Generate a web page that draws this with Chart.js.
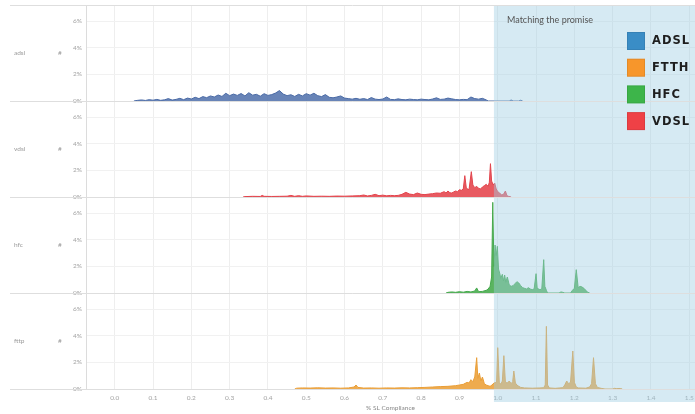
<!DOCTYPE html>
<html>
<head>
<meta charset="utf-8">
<script src="https://cdn.jsdelivr.net/npm/chart.js@4/dist/chart.umd.min.js"></script>
<style>
  html, body { margin: 0; padding: 0; background: #fff; }
  #wrap { width: 695px; height: 414px; position: relative; }
</style>
</head>
<body>
<div id="wrap"><canvas id="c" width="695" height="414"></canvas></div>
<script>
// Share of services (%) by SL compliance ratio, one row per access technology.
const rowNames = ['adsl', 'vdsl', 'hfc', 'fttp'];
const promiseFrom = 0.99;           // compliance ratio where "matching the promise" starts
const legendLabels = ['ADSL', 'FTTH', 'HFC', 'VDSL'];
const legendColors = ['#3a8dc6', '#f7962b', '#3db54a', '#ef4146'];
const yTicks = [0, 2, 4, 6];

const adslX = [0.05,0.06,0.07,0.08,0.09,0.10,0.11,0.12,0.13,0.14,0.15,0.16,0.17,0.18,0.19,0.20,0.21,0.22,0.23,0.24,0.25,0.26,0.27,0.28,0.29,0.30,0.31,0.32,0.33,0.34,0.35,0.36,0.37,0.38,0.39,0.40,0.41,0.42,0.43,0.44,0.45,0.46,0.47,0.48,0.49,0.50,0.51,0.52,0.53,0.54,0.55,0.56,0.57,0.58,0.59,0.60,0.61,0.62,0.63,0.64,0.65,0.66,0.67,0.68,0.69,0.70,0.71,0.72,0.73,0.74,0.75,0.76,0.77,0.78,0.79,0.80,0.81,0.82,0.83,0.84,0.85,0.86,0.87,0.88,0.89,0.90,0.91,0.92,0.93,0.94,0.95,0.96,0.97,0.975,1.03,1.035,1.04,1.055,1.06,1.065];
const adslY = [0.00,0.05,0.08,0.04,0.10,0.06,0.12,0.05,0.09,0.18,0.07,0.12,0.20,0.10,0.22,0.15,0.28,0.18,0.33,0.25,0.38,0.30,0.45,0.34,0.58,0.40,0.52,0.42,0.56,0.38,0.62,0.44,0.50,0.36,0.55,0.42,0.48,0.60,0.78,0.52,0.40,0.47,0.34,0.50,0.38,0.55,0.44,0.58,0.40,0.33,0.48,0.28,0.24,0.30,0.38,0.22,0.18,0.14,0.20,0.13,0.18,0.11,0.26,0.14,0.11,0.15,0.30,0.12,0.10,0.16,0.11,0.09,0.14,0.11,0.09,0.14,0.11,0.09,0.15,0.24,0.12,0.14,0.22,0.16,0.11,0.09,0.12,0.10,0.30,0.18,0.14,0.20,0.08,0,0,0.08,0,0,0.06,0];

const vdslX = [0.335,0.34,0.36,0.38,0.385,0.39,0.41,0.43,0.45,0.46,0.47,0.48,0.49,0.50,0.52,0.54,0.56,0.58,0.60,0.62,0.64,0.65,0.66,0.67,0.68,0.69,0.70,0.71,0.72,0.73,0.74,0.75,0.76,0.77,0.78,0.79,0.80,0.81,0.82,0.83,0.84,0.85,0.86,0.865,0.87,0.875,0.88,0.885,0.89,0.895,0.90,0.905,0.91,0.914,0.918,0.925,0.931,0.935,0.94,0.945,0.95,0.955,0.96,0.965,0.97,0.975,0.978,0.981,0.984,0.988,0.992,0.996,1.00,1.005,1.01,1.015,1.02,1.024,1.028,1.035];
const vdslY = [0,0.03,0.05,0.04,0.12,0.05,0.04,0.05,0.06,0.12,0.05,0.10,0.05,0.08,0.05,0.06,0.05,0.07,0.06,0.08,0.10,0.15,0.08,0.12,0.20,0.10,0.14,0.09,0.12,0.10,0.12,0.20,0.35,0.22,0.18,0.30,0.20,0.18,0.22,0.25,0.30,0.28,0.40,0.30,0.45,0.32,0.30,0.38,0.45,0.40,0.55,0.50,0.60,1.60,0.65,0.55,1.90,0.90,0.70,0.80,0.65,0.60,0.75,0.85,0.95,0.80,1.10,2.50,1.20,0.90,1.05,0.60,0.40,0.30,0.15,0.20,0.45,0.10,0.05,0];

const hfcX = [0.865,0.87,0.88,0.89,0.90,0.91,0.92,0.93,0.94,0.945,0.95,0.96,0.97,0.975,0.98,0.984,0.987,0.99,0.993,0.996,0.999,1.002,1.005,1.008,1.012,1.015,1.018,1.021,1.025,1.03,1.035,1.04,1.045,1.05,1.055,1.06,1.065,1.07,1.075,1.08,1.085,1.09,1.095,1.10,1.103,1.11,1.115,1.12,1.123,1.127,1.13,1.16,1.165,1.17,1.175,1.19,1.195,1.20,1.205,1.21,1.215,1.22,1.225,1.23,1.235,1.24];
const hfcY = [0,0.05,0.08,0.05,0.10,0.06,0.12,0.08,0.15,0.38,0.10,0.12,0.20,0.30,0.50,1.20,6.80,2.00,3.60,2.80,3.50,1.80,1.50,1.10,1.40,0.90,1.35,0.80,1.20,0.60,0.50,0.55,0.70,0.85,0.75,0.55,0.40,0.35,0.30,0.40,0.30,0.25,0.30,1.45,0.35,0.25,0.30,2.50,0.50,0.20,0,0,0.08,0.05,0,0,0.20,0.35,1.75,0.40,0.50,0.45,0.35,0.20,0.05,0];

const fttpX = [0.47,0.475,0.49,0.51,0.53,0.55,0.57,0.59,0.61,0.625,0.63,0.635,0.65,0.67,0.69,0.71,0.73,0.75,0.77,0.79,0.81,0.83,0.85,0.87,0.89,0.90,0.91,0.92,0.925,0.93,0.935,0.94,0.945,0.948,0.952,0.956,0.96,0.965,0.97,0.975,0.98,0.985,0.99,0.997,1.00,1.004,1.008,1.012,1.016,1.02,1.025,1.03,1.035,1.039,1.042,1.046,1.05,1.055,1.06,1.07,1.09,1.11,1.12,1.124,1.127,1.13,1.135,1.15,1.17,1.175,1.18,1.185,1.19,1.196,1.20,1.205,1.21,1.23,1.24,1.245,1.25,1.255,1.26,1.27,1.28,1.30,1.305,1.31,1.32,1.325];
const fttpY = [0,0.06,0.08,0.07,0.09,0.07,0.08,0.06,0.08,0.15,0.30,0.12,0.07,0.08,0.06,0.08,0.07,0.09,0.08,0.10,0.12,0.15,0.18,0.20,0.25,0.30,0.35,0.50,0.45,0.70,0.55,0.90,2.35,0.80,1.20,0.60,0.90,0.40,0.30,0.25,0.20,0.30,0.45,0.50,3.10,0.50,0.35,0.60,2.50,0.50,0.45,0.60,0.40,0.55,1.35,0.45,0.30,0.20,0.12,0.08,0.06,0.08,0.10,0.30,4.70,0.30,0.08,0.05,0.10,0.30,0.60,0.40,0.50,2.85,0.50,0.15,0.08,0.06,0.15,0.40,2.35,0.40,0.12,0.05,0,0,0.05,0.03,0.04,0];

const toPoints = (xs, ys) => xs.map((x, i) => ({ x, y: ys[i] }));

const FONT = 'Lato, "Open Sans", sans-serif';
const tickColor = '#a3a3a3';

function rowAxis() {
  return {
    type: 'linear', position: 'left', stack: 'rows', stackWeight: 1,
    min: 0, max: 7.2,
    afterBuildTicks(s) { s.ticks = yTicks.map(v => ({ value: v })); },
    ticks: { padding: 4, color: tickColor, font: { family: FONT, size: 6.5 }, callback: v => v + '%' },
    grid: { drawTicks: false, color: '#f1f1f1', lineWidth: 1 },
    border: { display: true, color: '#dcdcdc' },
    afterFit(s) { s.width = 86; s.paddingTop = 0; s.paddingBottom = 0; }
  };
}

function series(label, xs, ys, axis, line, fill) {
  return {
    label, data: toPoints(xs, ys), yAxisID: axis,
    borderColor: line, backgroundColor: fill, borderWidth: 1,
    fill: 'origin', pointRadius: 0, tension: 0
  };
}

// Row decorations: header labels, full-width separators, shaded "promise" zone and legend.
const decor = {
  id: 'decor',
  afterDatasetsDraw(chart) {
    const { ctx, chartArea: a, scales } = chart;
    const x0 = scales.x.getPixelForValue(promiseFrom);
    ctx.save();
    ctx.fillStyle = 'rgba(160,207,227,0.43)';
    ctx.fillRect(x0, a.top, a.right - x0, a.bottom + 13 - a.top);
    ctx.restore();
  },
  afterDraw(chart) {
    const { ctx, chartArea: a, scales } = chart;
    ctx.save();
    ctx.strokeStyle = '#dedede';
    ctx.lineWidth = 1;
    const ids = ['yAdsl', 'yVdsl', 'yHfc', 'yFttp'];
    ctx.beginPath();
    ctx.moveTo(10, a.top + 0.5); ctx.lineTo(a.right, a.top + 0.5);
    ids.forEach(id => {
      const b = Math.round(scales[id].bottom) + 0.5;
      ctx.moveTo(10, b); ctx.lineTo(a.right, b);
    });
    ctx.stroke();

    ctx.fillStyle = '#9a9a9a';
    ctx.font = '6.5px ' + FONT;
    ctx.textBaseline = 'middle';
    ids.forEach((id, i) => {
      const s = scales[id];
      const yc = (s.top + s.bottom) / 2;
      ctx.textAlign = 'left';
      ctx.fillText(rowNames[i], 14, yc);
      ctx.fillText('#', 58, yc);
    });

    ctx.fillStyle = '#555';
    ctx.font = '9px ' + FONT;
    ctx.textAlign = 'left';
    ctx.fillText('Matching the promise', 507, 20);

    ctx.font = 'bold 11.5px "DejaVu Sans", sans-serif';
    ctx.letterSpacing = '1px';
    legendLabels.forEach((lab, i) => {
      const top = 32 + i * 26.7;
      ctx.fillStyle = legendColors[i];
      ctx.fillRect(a.right - 68, top, 18, 18);
      ctx.strokeStyle = 'rgba(0,0,0,0.08)';
      ctx.strokeRect(a.right - 67.5, top + 0.5, 17, 17);
      ctx.fillStyle = '#1e1e1e';
      ctx.fillText(lab, a.right - 43, top + 9.5);
    });
    ctx.restore();
  }
};

new Chart(document.getElementById('c'), {
  type: 'line',
  data: {
    datasets: [
      series('adsl', adslX, adslY, 'yAdsl', '#4a6aa5', 'rgba(78,110,170,0.85)'),
      series('vdsl', vdslX, vdslY, 'yVdsl', '#e2444c', 'rgba(230,72,80,0.9)'),
      series('hfc', hfcX, hfcY, 'yHfc', '#45a84c', 'rgba(72,172,78,0.9)'),
      series('fttp', fttpX, fttpY, 'yFttp', '#e99e37', 'rgba(236,162,60,0.9)')
    ]
  },
  options: {
    responsive: false,
    animation: false,
    devicePixelRatio: 1,
    layout: { padding: { top: 5, left: 0, right: 0, bottom: 0 } },
    plugins: { legend: { display: false }, tooltip: { enabled: false } },
    scales: {
      x: {
        type: 'linear', min: -0.075, max: 1.515,
        afterBuildTicks(s) {
          const t = [];
          for (let i = 0; i <= 15; i++) t.push({ value: i / 10 });
          s.ticks = t;
        },
        ticks: { padding: 5, color: tickColor, font: { family: FONT, size: 6.5 }, maxRotation: 0, autoSkip: false, callback: v => Number(v).toFixed(1) },
        grid: { drawTicks: false, color: '#eeeeee' },
        border: { color: '#dcdcdc' },
        title: { display: true, text: '% SL Compliance', color: '#888', font: { family: FONT, size: 6.5 }, padding: { top: 0, bottom: 2 } },
        afterFit(s) { s.height = 25; s.paddingLeft = 0; s.paddingRight = 0; }
      },
      // stacked row axes: the last one listed ends up at the top
      yFttp: rowAxis(),
      yHfc: rowAxis(),
      yVdsl: rowAxis(),
      yAdsl: rowAxis()
    }
  },
  plugins: [decor]
});
</script>
</body>
</html>
